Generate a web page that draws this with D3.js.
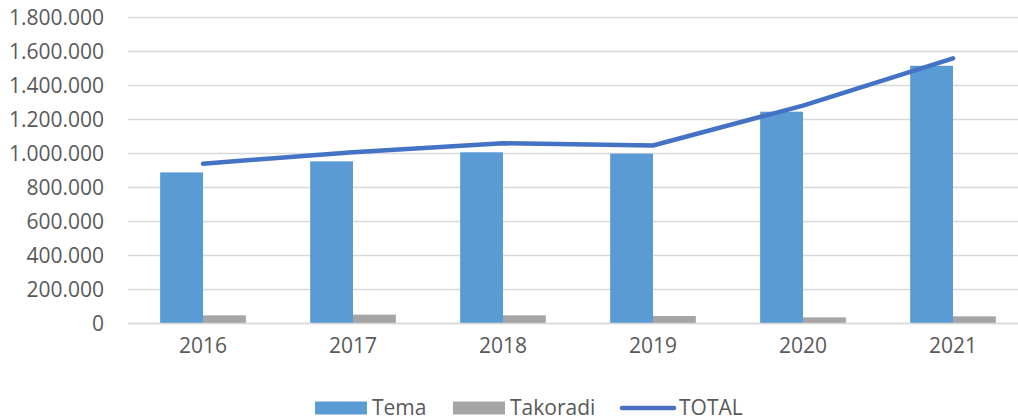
<!DOCTYPE html>
<html>
<head>
<meta charset="utf-8">
<script src="https://cdn.jsdelivr.net/npm/d3@7"></script>
<style>
  html, body { margin: 0; padding: 0; background: #fff; }
  svg { display: block; }
  text { font-family: "Open Sans", sans-serif; fill: #595959; }
</style>
</head>
<body>
<svg id="chart" width="1018" height="420"></svg>
<script>
// Port volumes per year
const years = ["2016", "2017", "2018", "2019", "2020", "2021"];
const tema = [889000, 954000, 1007000, 999000, 1246000, 1516000];
const takoradi = [48000, 52000, 48000, 44000, 36000, 42000];
const total = [940000, 1008000, 1060000, 1047000, 1282000, 1560000];
const yTicks = [0, 200000, 400000, 600000, 800000, 1000000, 1200000, 1400000, 1600000, 1800000];

const colors = { tema: "#5b9bd5", takoradi: "#a5a5a5", total: "#4472c4" };

const svg = d3.select("#chart");
const width = 1018, height = 420;
const plot = { left: 128, right: 1028, top: 17.5, bottom: 323.5 };

const x = d3.scaleBand().domain(years).range([plot.left, plot.right]);
const y = d3.scaleLinear().domain([0, 1800000]).range([plot.bottom, plot.top]);

// group of two bars inside each band (gap width 150%)
const inner = d3.scaleBand().domain(["tema", "takoradi"])
  .range([0, x.bandwidth()]).paddingOuter(0.75).paddingInner(0);

const fmt = v => d3.format(",")(v).replace(/,/g, ".");

// Gridlines
svg.append("g")
  .selectAll("line")
  .data(yTicks)
  .join("line")
  .attr("x1", plot.left).attr("x2", width)
  .attr("y1", d => y(d)).attr("y2", d => y(d))
  .attr("stroke", "#d9d9d9").attr("stroke-width", 1.3);

// Y axis labels
const yAxis = svg.append("g")
  .attr("transform", `translate(${plot.left - 24},0)`)
  .call(d3.axisLeft(y).tickValues(yTicks).tickFormat(fmt).tickSize(0).tickPadding(0));
yAxis.select(".domain").remove();
yAxis.selectAll("text").attr("font-size", 21).attr("fill", "#595959")
  .style("font-family", "'Open Sans', sans-serif");

// Bars
const groups = svg.append("g").selectAll("g")
  .data(years)
  .join("g")
  .attr("transform", d => `translate(${x(d)},0)`);

groups.append("rect")
  .attr("x", inner("tema"))
  .attr("width", inner.bandwidth())
  .attr("y", (d, i) => y(tema[i]))
  .attr("height", (d, i) => y(0) - y(tema[i]))
  .attr("fill", colors.tema);

groups.append("rect")
  .attr("x", inner("takoradi"))
  .attr("width", inner.bandwidth())
  .attr("y", (d, i) => y(takoradi[i]))
  .attr("height", (d, i) => y(0) - y(takoradi[i]))
  .attr("fill", colors.takoradi);

// Baseline over bars
svg.append("line")
  .attr("x1", plot.left).attr("x2", width)
  .attr("y1", y(0)).attr("y2", y(0))
  .attr("stroke", "#d9d9d9").attr("stroke-width", 1.3);

// X axis labels
const xAxis = svg.append("g")
  .attr("transform", `translate(0,${plot.bottom + 15})`)
  .call(d3.axisBottom(x).tickSize(0).tickPadding(0));
xAxis.select(".domain").remove();
xAxis.selectAll("text").attr("font-size", 21).attr("fill", "#595959")
  .style("font-family", "'Open Sans', sans-serif");

// TOTAL line
const line = d3.line()
  .x((d, i) => x(years[i]) + x.bandwidth() / 2)
  .y(d => y(d));
svg.append("path")
  .datum(total)
  .attr("d", line)
  .attr("fill", "none")
  .attr("stroke", colors.total)
  .attr("stroke-width", 4.5)
  .attr("stroke-linecap", "round")
  .attr("stroke-linejoin", "round");

// Legend
const legend = svg.append("g");
const legendY = 408;
legend.append("rect").attr("x", 315).attr("y", legendY - 6.5).attr("width", 52).attr("height", 13).attr("fill", colors.tema);
legend.append("text").attr("x", 372).attr("y", legendY).attr("dy", "0.35em").attr("font-size", 21).text("Tema");
legend.append("rect").attr("x", 453).attr("y", legendY - 6.5).attr("width", 52).attr("height", 13).attr("fill", colors.takoradi);
legend.append("text").attr("x", 510).attr("y", legendY).attr("dy", "0.35em").attr("font-size", 21).text("Takoradi");
legend.append("line").attr("x1", 622).attr("x2", 674).attr("y1", legendY).attr("y2", legendY)
  .attr("stroke", colors.total).attr("stroke-width", 4.5).attr("stroke-linecap", "round");
legend.append("text").attr("x", 679).attr("y", legendY).attr("dy", "0.35em").attr("font-size", 21).text("TOTAL");
</script>
</body>
</html>
